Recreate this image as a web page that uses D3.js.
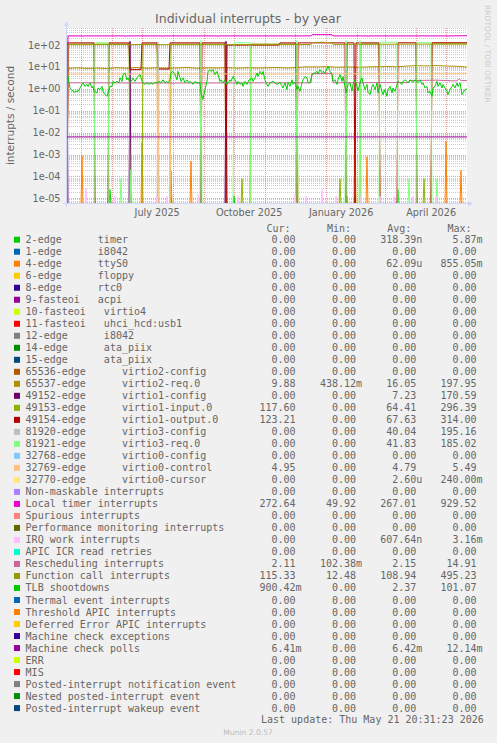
<!DOCTYPE html>
<html><head><meta charset="utf-8">
<script src="https://cdn.jsdelivr.net/npm/d3@7"></script>
<style>
html,body{margin:0;padding:0;background:#F0F0F0;}
svg{display:block;}
text{white-space:pre;}
</style></head><body>
<svg id="chart" width="497" height="743"></svg>
<script>
// ---------- time frame ----------
const START = "2025-04-16T20:31:23Z";
const END = "2026-05-21T20:31:23Z";

// ---------- axis labels ----------
const yTickValues = [1e-5, 1e-4, 1e-3, 1e-2, 1e-1, 1, 10, 100];
const yTickLabels = ["1e-05", "1e-04", "1e-03", "1e-02", "1e-01", "1e+00", "1e+01", "1e+02"];
const xLabelDates = ["2025-07-16", "2025-10-16", "2026-01-16", "2026-04-16"];
const xLabels = ["July 2025", "October 2025", "January 2026", "April 2026"];

// ---------- series data: [day since start, interrupts/second] ----------
const timer2 = [[0,0],[42,0],[43,2.5e-5],[44,0],[103,0],[104,1.3e-5],[105,0],[166,0],[167,1.3e-5],[168,0],[279,0],[280,1.3e-5],[281,0],[287,0],[288,1.3e-5],[289,0],[330,0],[331,2.5e-5],[332,0],[400,0]];
const ttyS0 = [[0,0],[14,0],[15,9e-4],[16,0],[74,0],[75,3.5e-3],[76,0],[103,0],[104,1.8e-4],[105,0],[123,0],[124,5e-4],[125,0],[229,0],[230,0.855],[231,0],[287,0],[288,0.05],[289,0],[299,0],[300,8e-4],[301,0],[378,0],[379,4e-3],[380,0],[393,0],[394,1.9e-4],[395,0],[400,0]];
const virtio2Req = [[0,0],[1,8.5],[10,9.2],[20,8.6],[30,9.0],[40,8.5],[50,9.3],[60,8.8],[70,9.5],[80,8.7],[90,9.2],[100,8.8],[110,9.0],[120,9.6],[130,8.7],[140,9.2],[150,9.0],[160,9.4],[170,8.8],[180,9.3],[190,9.0],[200,9.2],[210,9.5],[220,9.0],[230,9.6],[240,10.2],[250,10.0],[260,10.4],[270,9.8],[280,10.1],[290,9.7],[300,10.0],[310,10.3],[320,10.6],[330,10.2],[340,11.0],[350,11.5],[360,11.2],[370,11.6],[380,11.0],[390,10.8],[400,9.9]];
const virtio1Config = [[0,150],[1,0],[62,0],[63,150],[64,0],[158,0],[159,150],[160,0],[400,0]];
const virtio1Input = [[0,0],[1,112],[62,112],[63,0],[75,0],[76,112],[90,112],[91,0],[103,0],[104,112],[158,112],[159,0],[174,0],[175,8e-5],[176,0],[183,0],[184,112],[229,112],[230,0],[272,0],[273,8e-5],[274,0],[293,0],[294,112],[312,112],[313,0],[356,0],[357,8e-5],[358,0],[364,0],[365,114],[400,114]];
const virtio1Output = [[0,0],[1,126],[27,126],[28,0],[41,0],[42,126],[62,125],[63,7.5],[74,7.6],[75,126],[90,126],[91,8.1],[102,8.0],[103,126],[133,126],[134,0],[135,126],[158,126],[159,0],[160,100],[212,100],[213,126],[229,126],[230,0],[231,126],[278,126],[279,0],[280,126],[287,126],[288,0],[289,126],[312,126],[313,0],[330,0],[331,127],[349,127],[350,0],[364,0],[365,128],[400,128]];
const virtio3Config = [[0,0],[90,0],[91,140],[92,0],[400,0]];
const virtio3Req = [[0,0],[27,0],[28,128],[41,128],[42,0],[53,0],[54,8e-5],[55,0],[63,0],[64,2e-4],[65,0],[133,0],[134,160],[135,0],[166,0],[167,128],[183,128],[184,0],[229,0],[230,160],[231,0],[278,0],[279,160],[280,0],[292,0],[293,160],[294,0],[312,0],[313,135],[330,135],[331,0],[341,0],[342,8e-5],[343,0],[349,0],[350,130],[364,130],[365,0],[369,0],[370,8e-5],[371,0],[400,0]];
const virtio0Control = [[0,0],[1,4.8],[90,4.8],[91,0],[92,4.8],[102,4.8],[103,0],[104,4.8],[400,4.95]];
const localTimer = [[0,0],[1,262],[15,262],[16,252],[17,262],[58,262],[59,250],[60,262],[95,262],[96,254],[97,262],[150,262],[151,250],[152,262],[244,262],[245,300],[265,300],[266,262],[300,262],[301,252],[302,262],[380,262],[381,252],[382,262],[400,268]];
const irqWork = [[0,0],[18,0],[19,2.7e-5],[20,0],[47,0],[48,1.3e-5],[49,0],[89,0],[90,1.3e-5],[91,0],[99,0],[100,1.3e-5],[101,0],[130,0],[131,1.5e-5],[132,0],[170,0],[171,1.3e-5],[172,0],[227,0],[228,1.5e-5],[229,0],[238,0],[239,1.3e-5],[240,0],[254,0],[255,2.5e-5],[256,0],[268,0],[269,1.3e-5],[270,0],[293,0],[294,1.3e-5],[295,0],[312,0],[313,1.3e-5],[314,0],[326,0],[327,1.3e-5],[328,0],[345,0],[346,1.3e-5],[347,0],[368,0],[369,1.3e-5],[370,0],[400,0]];
const rescheduling = [[0,0],[1,1.9],[100,1.85],[244,1.9],[245,5.0],[265,5.0],[266,1.9],[342,1.95],[343,2.4],[370,2.5],[390,2.3],[392,2.9],[394,2.4],[400,2.4]];
const functionCall = [[0,0],[1,104],[60,106],[120,104],[200,105],[244,106],[245,130],[255,135],[265,128],[266,108],[330,110],[400,112]];
const tlbShootdowns = [[0,6.3],[3,1.1],[5,0.9],[7,0.7],[9,0.8],[11,0.75],[13,1.1],[15,1.6],[16,1.9],[18,1.3],[20,1.6],[21,1.3],[23,1.9],[25,1.1],[26,1.3],[27,0.8],[30,0.66],[31,1.1],[33,0.93],[35,1.3],[36,0.78],[38,0.55],[40,0.46],[41,0.66],[43,1.3],[45,1.3],[46,2.2],[48,1.9],[50,2.2],[52,1.9],[53,3.2],[55,2.2],[56,4.5],[58,5.3],[60,2.6],[61,3.2],[63,1.9],[65,2.6],[66,3.2],[68,2.2],[70,3.2],[71,3.7],[73,4.5],[75,2.2],[76,1.9],[78,1.6],[80,1.9],[82,1.6],[84,1.9],[86,1.6],[88,2.0],[90,1.9],[92,2.2],[94,1.9],[96,2.6],[98,1.9],[100,2.2],[101,1.9],[103,2.6],[104,5.3],[106,6.3],[108,4.5],[110,2.6],[111,6.3],[113,3.2],[114,2.2],[116,3.2],[118,1.9],[120,2.6],[122,1.9],[123,2.2],[125,1.9],[126,1.6],[128,2.2],[130,1.9],[133,1.9],[134,0.66],[136,0.33],[138,0.93],[140,2.2],[141,6.3],[143,7.5],[144,6.3],[146,7.5],[148,4.5],[150,6.3],[151,4.5],[153,2.2],[154,2.6],[156,1.9],[158,2.6],[160,1.6],[161,1.9],[163,2.6],[164,2.2],[166,3.7],[168,2.6],[170,1.6],[171,2.2],[173,1.6],[175,1.9],[176,1.3],[178,2.2],[180,1.6],[182,2.6],[183,2.6],[185,3.2],[186,2.2],[188,3.2],[190,5.3],[191,3.7],[193,6.3],[195,4.5],[196,6.3],[198,2.6],[199,1.9],[201,1.3],[203,1.9],[206,2.2],[210,1.6],[213,2.0],[216,1.1],[218,1.9],[220,0.93],[221,2.0],[223,1.3],[225,2.6],[226,1.6],[228,2.0],[230,0.93],[231,1.3],[233,0.78],[235,1.9],[236,2.6],[238,3.7],[240,3.2],[241,1.9],[243,1.9],[245,4.5],[246,4.7],[250,6.3],[251,5.0],[253,7.5],[255,5.5],[256,6.3],[258,5.3],[260,8.7],[261,10.7],[263,6.3],[265,4.7],[266,2.2],[268,2.6],[270,1.6],[271,2.6],[273,4.5],[275,2.2],[276,3.7],[278,1.3],[279,0.66],[281,1.6],[283,1.9],[285,0.8],[286,1.6],[288,2.6],[290,1.3],[291,0.8],[293,1.9],[295,3.2],[296,1.9],[298,0.93],[300,1.6],[301,0.7],[303,0.55],[305,1.3],[306,1.6],[308,0.93],[310,1.9],[311,0.66],[313,1.6],[315,0.78],[316,0.55],[318,0.93],[320,0.46],[321,0.93],[323,1.3],[325,0.66],[326,1.1],[328,0.78],[330,1.6],[331,2.2],[333,1.9],[335,1.6],[336,2.2],[338,2.6],[340,2.2],[341,1.9],[343,2.6],[345,2.2],[346,1.9],[348,2.6],[350,2.2],[351,1.9],[353,2.6],[355,1.6],[356,1.9],[358,1.1],[360,1.3],[361,0.66],[363,0.78],[365,0.46],[366,1.1],[368,1.3],[370,2.2],[371,1.3],[373,1.9],[375,1.1],[376,1.6],[378,1.1],[380,0.78],[381,0.55],[383,0.93],[385,1.3],[386,1.6],[388,1.1],[390,1.9],[391,1.3],[393,1.9],[395,0.55],[396,0.66],[398,0.93],[400,1.0]];
const machineCheckPolls = [[0,0.0064],[400,0.0064]];

// ---------- legend ----------
const legendNames = ["2-edge      timer","1-edge      i8042","4-edge      ttyS0","6-edge      floppy","8-edge      rtc0","9-fasteoi   acpi","10-fasteoi   virtio4","11-fasteoi   uhci_hcd:usb1","12-edge      i8042","14-edge      ata_piix","15-edge      ata_piix","65536-edge      virtio2-config","65537-edge      virtio2-req.0","49152-edge      virtio1-config","49153-edge      virtio1-input.0","49154-edge      virtio1-output.0","81920-edge      virtio3-config","81921-edge      virtio3-req.0","32768-edge      virtio0-config","32769-edge      virtio0-control","32770-edge      virtio0-cursor","Non-maskable interrupts","Local timer interrupts","Spurious interrupts","Performance monitoring interrupts","IRQ work interrupts","APIC ICR read retries","Rescheduling interrupts","Function call interrupts","TLB shootdowns","Thermal event interrupts","Threshold APIC interrupts","Deferred Error APIC interrupts","Machine check exceptions","Machine check polls","ERR","MIS","Posted-interrupt notification event","Nested posted-interrupt event","Posted-interrupt wakeup event"];
const legendColors = ["#00CC00","#0066B3","#FF8000","#FFCC00","#330099","#990099","#CCFF00","#FF0000","#808080","#008F00","#00487D","#B35A00","#B38F00","#6B006B","#8FB300","#B30000","#BEBEBE","#80FF80","#80C9FF","#FFC080","#FFE680","#AA80FF","#EE00CC","#FF8080","#666600","#FFBFFF","#00FFCC","#CC6699","#999900","#00CC00","#0066B3","#FF8000","#FFCC00","#330099","#990099","#CCFF00","#FF0000","#808080","#008F00","#00487D"];
const curValues = ["0.00","0.00","0.00","0.00","0.00","0.00","0.00","0.00","0.00","0.00","0.00","0.00","9.88","0.00","117.60","123.21","0.00","0.00","0.00","4.95","0.00","0.00","272.64","0.00","0.00","0.00","0.00","2.11","115.33","900.42m","0.00","0.00","0.00","0.00","6.41m","0.00","0.00","0.00","0.00","0.00"];
const minValues = ["0.00","0.00","0.00","0.00","0.00","0.00","0.00","0.00","0.00","0.00","0.00","0.00","438.12m","0.00","0.00","0.00","0.00","0.00","0.00","0.00","0.00","0.00","49.92","0.00","0.00","0.00","0.00","102.38m","12.48","0.00","0.00","0.00","0.00","0.00","0.00","0.00","0.00","0.00","0.00","0.00"];
const avgValues = ["318.39n","0.00","62.09u","0.00","0.00","0.00","0.00","0.00","0.00","0.00","0.00","0.00","16.05","7.23","64.41","67.63","40.04","41.83","0.00","4.79","2.60u","0.00","267.01","0.00","0.00","607.64n","0.00","2.15","108.94","2.37","0.00","0.00","0.00","0.00","6.42m","0.00","0.00","0.00","0.00","0.00"];
const maxValues = ["5.87m","0.00","855.05m","0.00","0.00","0.00","0.00","0.00","0.00","0.00","0.00","0.00","197.95","170.59","296.39","314.00","195.16","185.02","0.00","5.49","240.00m","0.00","929.52","0.00","0.00","3.16m","0.00","14.91","495.23","101.07","0.00","0.00","0.00","0.00","12.14m","0.00","0.00","0.00","0.00","0.00"];

// which legend row each drawn series belongs to (drawing order = legend order)
const drawnSeries = [
  {row:0, data:timer2}, {row:2, data:ttyS0}, {row:12, data:virtio2Req}, {row:13, data:virtio1Config},
  {row:14, data:virtio1Input}, {row:15, data:virtio1Output}, {row:16, data:virtio3Config}, {row:17, data:virtio3Req},
  {row:19, data:virtio0Control}, {row:22, data:localTimer}, {row:25, data:irqWork}, {row:27, data:rescheduling},
  {row:28, data:functionCall}, {row:29, data:tlbShootdowns}, {row:34, data:machineCheckPolls}
];

// ---------- drawing ----------
const W = 497, H = 743;
const PL = 67, PR = 467, PT = 28, PB = 203;
const FONT = "#666666";
const svg = d3.select("#chart");
svg.append("rect").attr("width", W).attr("height", H).attr("fill", "#F0F0F0");
svg.append("rect").attr("x", PL).attr("y", PT).attr("width", PR - PL).attr("height", PB - PT).attr("fill", "#FFFFFF");

const t0 = new Date(START), t1 = new Date(END);
const x = d3.scaleUtc().domain([t0, t1]).range([PL, PR]);
const y = d3.scaleLog().domain([Math.pow(10, -5.21), Math.pow(10, 2.78)]).range([PB, PT]).clamp(true);
const dayDate = d => new Date(t0.getTime() + d * 864e5);

// grid
const grid = svg.append("g").attr("shape-rendering", "crispEdges");
const minorVals = [];
for (let k = -6; k <= 2; k++) for (let m = 2; m <= 9; m++) {
  const v = m * Math.pow(10, k);
  if (v > y.domain()[0] && v < y.domain()[1]) minorVals.push(v);
}
grid.selectAll("line.hmin").data(minorVals).join("line")
  .attr("x1", PL).attr("x2", PR).attr("y1", d => Math.round(y(d)) + 0.5).attr("y2", d => Math.round(y(d)) + 0.5)
  .attr("stroke", "rgba(143,143,143,0.45)").attr("stroke-dasharray", "1,1");
grid.selectAll("line.hmaj").data(yTickValues).join("line")
  .attr("x1", PL).attr("x2", PR).attr("y1", d => Math.round(y(d)) + 0.5).attr("y2", d => Math.round(y(d)) + 0.5)
  .attr("stroke", "rgba(222,79,79,0.55)").attr("stroke-dasharray", "1,1");
const months = d3.utcMonth.range(t0, t1);
grid.selectAll("line.vmaj").data(months).join("line")
  .attr("x1", d => Math.round(x(d)) + 0.5).attr("x2", d => Math.round(x(d)) + 0.5).attr("y1", PT).attr("y2", PB)
  .attr("stroke", "rgba(222,79,79,0.55)").attr("stroke-dasharray", "1,1");

// data lines
svg.append("clipPath").attr("id", "plotclip").append("rect")
  .attr("x", PL).attr("y", PT - 0.5).attr("width", PR - PL).attr("height", PB - PT + 1);
const line = d3.line().x(p => x(dayDate(p[0]))).y(p => p[1] > 0 ? y(p[1]) : PB + 3);
const lines = svg.append("g").attr("clip-path", "url(#plotclip)");
drawnSeries.forEach(s => {
  lines.append("path").attr("d", line(s.data)).attr("fill", "none")
    .attr("stroke", legendColors[s.row]).attr("stroke-width", 1);
});

// axes (light blue)
const AX = "#CFD6F8";
svg.append("line").attr("x1", 63).attr("x2", 469).attr("y1", PB + 0.5).attr("y2", PB + 0.5).attr("stroke", AX);
svg.append("path").attr("d", `M468,${PB - 2} L473,${PB + 0.5} L468,${PB + 3} Z`).attr("fill", AX);
svg.append("line").attr("x1", PL - 0.5).attr("x2", PL - 0.5).attr("y1", PB + 4).attr("y2", PT - 3).attr("stroke", AX);
svg.append("path").attr("d", `M${PL - 3},${PT - 2} L${PL - 0.5},${PT - 7} L${PL + 2},${PT - 2} Z`).attr("fill", AX);

// tick labels
svg.selectAll("text.ytick").data(yTickValues).join("text")
  .attr("x", 60.5).attr("y", d => y(d) + 3.5).attr("text-anchor", "end")
  .attr("font-family", "DejaVu Sans").attr("font-size", 9.7).attr("fill", FONT)
  .text((d, i) => yTickLabels[i]);
svg.selectAll("text.xtick").data(xLabelDates).join("text")
  .attr("x", d => x(new Date(d + "T00:00:00Z"))).attr("y", 215.8).attr("text-anchor", "middle")
  .attr("font-family", "DejaVu Sans").attr("font-size", 9.7).attr("fill", FONT)
  .text((d, i) => xLabels[i]);

// title, axis title, watermarks
svg.append("text").attr("x", 248).attr("y", 22.8).attr("text-anchor", "middle")
  .attr("font-family", "DejaVu Sans").attr("font-size", 12.5).attr("fill", FONT)
  .text("Individual interrupts - by year");
svg.append("text").attr("transform", "translate(14,115.5) rotate(-90)").attr("text-anchor", "middle")
  .attr("font-family", "DejaVu Sans").attr("font-size", 10.5).attr("fill", FONT)
  .text("interrupts / second");
svg.append("text").attr("transform", "translate(485,5) rotate(90)").attr("text-anchor", "start")
  .attr("font-family", "DejaVu Sans").attr("font-size", 7.6).attr("fill", "#CCCCCC")
  .text("RRDTOOL / TOBI OETIKER");
svg.append("text").attr("x", 248).attr("y", 735).attr("text-anchor", "middle")
  .attr("font-family", "DejaVu Sans").attr("font-size", 7.6).attr("fill", "#BBBBBB")
  .text("Munin 2.0.57");

// legend
const LG = svg.append("g").attr("font-family", "DejaVu Sans Mono").attr("font-size", 10).attr("fill", FONT);
const colEnds = [295.5, 356, 416.3, 476.5];
const headers = ["Cur:", "Min:", "Avg:", "Max:"];
headers.forEach((h, j) => {
  LG.append("text").attr("x", colEnds[j] - 5).attr("y", 232).attr("text-anchor", "end").text(h);
});
const rowY = i => 243.2 + i * 12.01;
const cols = [curValues, minValues, avgValues, maxValues];
legendNames.forEach((n, i) => {
  const yy = rowY(i);
  LG.append("rect").attr("x", 14).attr("y", yy - 6.5).attr("width", 6).attr("height", 6).attr("fill", legendColors[i]);
  LG.append("text").attr("x", 25.6).attr("y", yy).attr("xml:space", "preserve").text(n);
  cols.forEach((arr, j) => {
    const s = arr[i];
    const m = s.match(/^([0-9.]+)([a-z]?)$/);
    LG.append("text").attr("x", colEnds[j]).attr("y", yy).attr("text-anchor", "end").text(m[1]);
    if (m[2]) LG.append("text").attr("x", colEnds[j]).attr("y", yy).text(m[2]);
  });
});
LG.append("text").attr("x", 261).attr("y", rowY(40) - 0.2).attr("xml:space", "preserve")
  .text("Last update: Thu May 21 20:31:23 2026");
</script>
</body></html>
